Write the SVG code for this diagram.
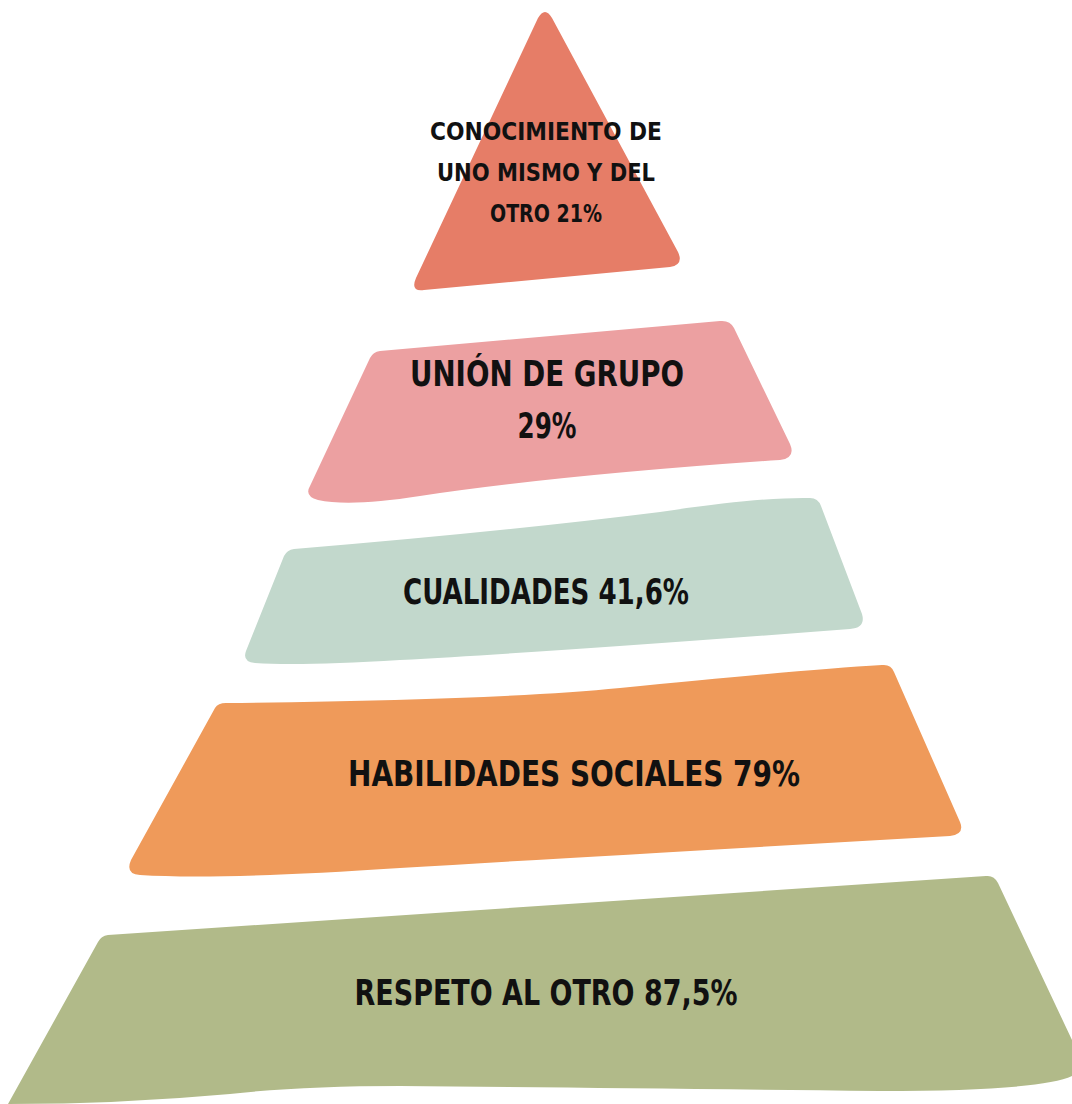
<svg xmlns="http://www.w3.org/2000/svg" width="1072" height="1104" viewBox="0 0 1072 1104">
<style>
.t{font-family:"DejaVu Sans Condensed","DejaVu Sans","Liberation Sans",sans-serif;font-weight:bold;fill:#111;text-anchor:middle}
.s{font-size:25px}
.m{font-size:36px}
</style>
<rect width="1072" height="1104" fill="#ffffff"/>
<g id="tier1">
<path fill="#E67D67" d="M538,18 Q545,6 552,18 L678,252 Q684,265 670,267 L424,290 Q410,292 416,278 Z"/>
<text class="t s" x="546" y="140" textLength="232" lengthAdjust="spacingAndGlyphs">CONOCIMIENTO DE</text>
<text class="t s" x="546" y="181" textLength="218" lengthAdjust="spacingAndGlyphs">UNO MISMO Y DEL</text>
<text class="t s" x="546" y="222" textLength="112" lengthAdjust="spacingAndGlyphs">OTRO 21%</text>
</g>
<g id="tier2">
<path fill="#ECA0A1" d="M380,351 L720,321 Q730,320 734,328 L790,444 Q796,458 780,460 Q560,475 420,496 Q350,507 318,500 Q304,496 310,486 L370,358 Q373,352 380,351 Z"/>
<text class="t m" x="547" y="386" textLength="274" lengthAdjust="spacingAndGlyphs">UNIÓN DE GRUPO</text>
<text class="t m" x="547" y="438" textLength="59" lengthAdjust="spacingAndGlyphs">29%</text>
</g>
<g id="tier3">
<path fill="#C2D8CC" d="M294,549 Q500,532 660,512 Q760,497 810,498 Q818,498 821,506 L862,614 Q866,628 850,629 Q550,652 400,660 Q300,666 255,663 Q242,662 246,651 L284,556 Q287,550 294,549 Z"/>
<text class="t m" x="546" y="604" textLength="286" lengthAdjust="spacingAndGlyphs">CUALIDADES 41,6%</text>
</g>
<g id="tier4">
<path fill="#EF9A5A" d="M226,703 Q500,700 620,688 Q800,670 882,665 Q891,664 894,672 L960,822 Q965,834 950,836 Q600,856 400,868 Q220,880 140,875 Q125,874 131,860 L215,708 Q218,703 226,703 Z"/>
<text class="t m" x="574" y="786" textLength="452" lengthAdjust="spacingAndGlyphs">HABILIDADES SOCIALES 79%</text>
</g>
<g id="tier5">
<path fill="#B1BA89" d="M108,935 L986,876 Q994,875 998,883 L1072,1040 L1072,1076 Q1040,1091 880,1091 Q600,1088 400,1086 Q300,1086 230,1094 Q120,1104 8,1104 L98,942 Q101,936 108,935 Z"/>
<text class="t m" x="546" y="1005" textLength="383" lengthAdjust="spacingAndGlyphs">RESPETO AL OTRO 87,5%</text>
</g>
<g id="connectors"/>
</svg>
